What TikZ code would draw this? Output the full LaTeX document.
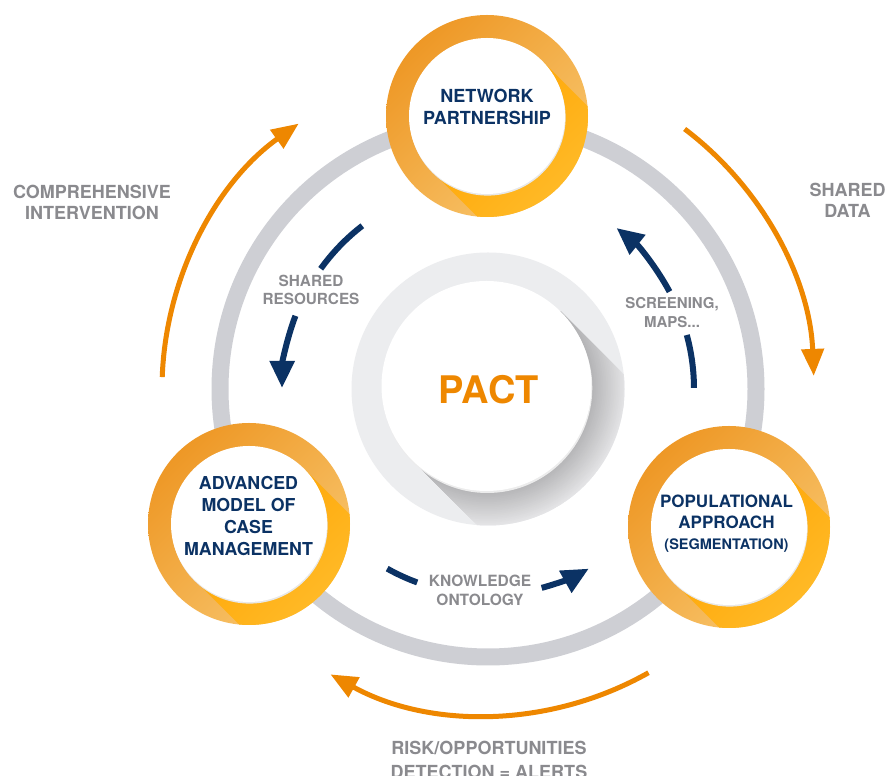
\documentclass[tikz,border=0pt]{standalone}
\usepackage{fontspec}
\setmainfont{TeX Gyre Heros}
\usetikzlibrary{arrows.meta,calc}
\definecolor{navy}{HTML}{0B3264}
\definecolor{arrorange}{HTML}{EE8700}
\definecolor{lblgrey}{HTML}{8A8A8E}
\definecolor{ringgrey}{HTML}{CECFD4}
\definecolor{oA}{HTML}{EE9826}
\definecolor{oB}{HTML}{F8C66E}
\definecolor{oC}{HTML}{FFA300}
\definecolor{oD}{HTML}{FFC438}
\definecolor{pactouter}{HTML}{ECEDEF}
\definecolor{shA}{HTML}{B4B4B6}
\definecolor{shB}{HTML}{E4E4E6}
\newcommand{\orangebubble}[2]{%
  \coordinate (#1c) at (#2);
  \begin{scope}
    \clip (#1c) circle[radius=101];
    \shade[top color=oA, bottom color=oB, shading angle=45] ($(#1c)+(-101,-101)$) rectangle ($(#1c)+(101,101)$);
    \shade[top color=oC, bottom color=oD, shading angle=45] ($(#1c)+(45:78)$) -- ($(#1c)+(45:78)+(-45:130)$) -- ($(#1c)+(225:78)+(-45:130)$) -- ($(#1c)+(225:78)$) -- cycle;
  \end{scope}
  \fill[gray!18] ($(#1c)+(0.6,-1.6)$) circle[radius=78];
  \node[whitedisc] (#1) at (#1c) {};
}
\begin{document}
\begin{tikzpicture}[x=1pt,y=1pt,
  bubblelabel/.style={text=navy, font=\bfseries\fontsize{17.8}{21.7}\selectfont, align=center, inner sep=0},
  sidelabel/.style={text=lblgrey, font=\bfseries\fontsize{18}{21}\selectfont, align=center, inner sep=0},
  innerlabel/.style={text=lblgrey, font=\bfseries\fontsize{15.3}{18.5}\selectfont, align=center, inner sep=0},
  orangearc/.style={draw=arrorange, line width=5pt, -{Triangle[length=27pt,width=22pt]}},
  navyarc/.style={draw=navy, line width=6pt},
  navyarrow/.style={navyarc, -{Triangle[length=27pt,width=24pt]}},
  whitedisc/.style={circle, fill=white, minimum size=156pt, inner sep=0pt},
]
\useasboundingbox (0,0) rectangle (887,776);
\fill[white] (0,0) rectangle (887,776);
\coordinate (C) at (488,387);
% grey ring
\draw[ringgrey, line width=17pt] (C) circle[radius=268];
% centre PACT disc
\coordinate (P) at (486.5,390);
\fill[pactouter] (C) circle[radius=136.5];
\begin{scope}
  \clip (C) circle[radius=136.5];
  \clip ($(P)+(45:105)$) -- ($(P)+(45:105)+(-45:160)$) -- ($(P)+(225:105)+(-45:160)$) -- ($(P)+(225:105)$) -- cycle;
  \foreach \k in {0,...,20}{
    \pgfmathsetmacro\rr{140-1.7*\k}
    \pgfmathtruncatemacro\pc{5*\k}
    \fill[shA!\pc!shB] (P) circle[radius=\rr];
  }
\end{scope}
\fill[gray!15] ($(P)+(0.8,-2)$) circle[radius=105];
\node[circle, fill=white, minimum size=210pt, inner sep=0pt] (pactdisc) at (P) {};
\node[text=arrorange, font=\bfseries\fontsize{38}{40}\selectfont, inner sep=0] (pact) at (488.8,386) {PACT};
% bubbles
\orangebubble{np}{487,660}
\orangebubble{am}{249,252}
\orangebubble{pa}{729,249}
\node[bubblelabel, font=\bfseries\fontsize{18}{22}\selectfont] (npl) at (487,669.5) {NETWORK\\PARTNERSHIP};
\node[bubblelabel] (aml) at (248.5,260) {ADVANCED\\MODEL OF\\CASE\\MANAGEMENT};
\node[bubblelabel, font=\bfseries\fontsize{17}{21}\selectfont] (pal) at (726.5,252.5) {POPULATIONAL\\APPROACH\\{\fontsize{14.5}{20}\selectfont(SEGMENTATION)}};
% outer orange arcs
\draw[orangearc] ($(C)+(177.9:326)$) arc[start angle=177.9, end angle=125.5, radius=326];
\draw[orangearc] ($(C)+(52.9:326)$) arc[start angle=52.9, end angle=2.3, radius=326];
\draw[orangearc] ($(C)+(-60.5:326)$) arc[start angle=-60.5, end angle=-118.9, radius=326];
% inner navy arcs
\draw[navyarc] ($(C)+(127.6:206)$) arc[start angle=127.6, end angle=144.3, radius=206];
\draw[navyarrow] ($(C)+(159.2:206)$) arc[start angle=159.2, end angle=179.7, radius=206];
\draw[navyarc] ($(C)+(0.3:206)$) arc[start angle=0.3, end angle=15.2, radius=206];
\draw[navyarrow] ($(C)+(28.2:206)$) arc[start angle=28.2, end angle=51.4, radius=206];
\draw[navyarc] ($(C)+(-119.3:206)$) arc[start angle=-119.3, end angle=-110.1, radius=206];
\draw[navyarrow] ($(C)+(-74.9:206)$) arc[start angle=-74.9, end angle=-60.7, radius=206];
% labels
\node[sidelabel] (cil) at (92,574) {COMPREHENSIVE\\INTERVENTION};
\node[sidelabel] (sdl) at (847.5,575.5) {SHARED\\DATA};
\node[sidelabel, font=\bfseries\fontsize{18}{23.7}\selectfont] (rol) at (489,16) {RISK/OPPORTUNITIES\\DETECTION = ALERTS};
\node[innerlabel, font=\bfseries\fontsize{15.3}{18}\selectfont] (srl) at (311,486.5) {SHARED\\RESOURCES};
\node[innerlabel, font=\bfseries\fontsize{15}{19}\selectfont] (sml) at (672,463) {SCREENING,\\MAPS...};
\node[innerlabel, font=\bfseries\fontsize{15.5}{19}\selectfont] (kol) at (480,185.5) {KNOWLEDGE\\ONTOLOGY};
\end{tikzpicture}
\end{document}
